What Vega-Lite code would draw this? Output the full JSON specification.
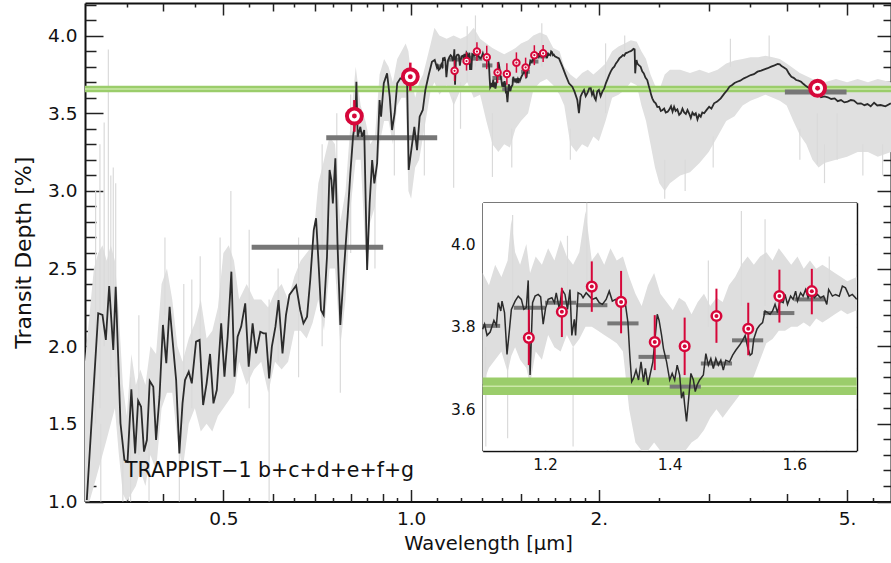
{
  "$schema": "https://vega.github.io/schema/vega-lite/v6.json",
  "width": 806,
  "height": 498.5,
  "autosize": {"type": "none"},
  "padding": {"left": 85, "top": 3, "right": 0, "bottom": 61.5},
  "background": "white",
  "config": {
    "font": "DejaVu Sans",
    "view": {"stroke": null},
    "axis": {"zindex": 1, "grid": false, "labelFont": "DejaVu Sans", "titleFont": "DejaVu Sans", "labelColor": "#111111", "titleColor": "#111111", "titleFontWeight": "normal", "tickColor": "#222222", "domainColor": "#111111", "domainWidth": 2, "tickWidth": 1.5, "labelFlush": false, "labelOverlap": false}
  },
  "datasets": {
    "env": [
      {"w":0.300,"lo":1.00,"hi":1.90},{"w":0.305,"lo":1.00,"hi":2.20},{"w":0.310,"lo":1.10,"hi":2.50},{"w":0.315,"lo":1.20,"hi":2.60},{"w":0.320,"lo":1.30,"hi":2.65},{"w":0.325,"lo":1.40,"hi":2.55},{"w":0.330,"lo":1.50,"hi":2.65},{"w":0.335,"lo":1.60,"hi":2.55},{"w":0.340,"lo":1.30,"hi":2.20},{"w":0.345,"lo":1.05,"hi":1.75},{"w":0.350,"lo":1.00,"hi":1.55},{"w":0.356,"lo":1.05,"hi":1.95},{"w":0.362,"lo":1.10,"hi":1.75},{"w":0.368,"lo":1.20,"hi":1.85},{"w":0.375,"lo":1.10,"hi":1.75},{"w":0.382,"lo":1.30,"hi":2.00},{"w":0.390,"lo":1.20,"hi":1.95},{"w":0.398,"lo":1.60,"hi":2.40},{"w":0.406,"lo":1.70,"hi":2.50},{"w":0.414,"lo":1.70,"hi":2.30},{"w":0.422,"lo":1.40,"hi":2.00},{"w":0.430,"lo":1.20,"hi":1.90},{"w":0.440,"lo":1.50,"hi":2.05},{"w":0.450,"lo":1.60,"hi":2.15},{"w":0.460,"lo":1.45,"hi":2.30},{"w":0.470,"lo":1.50,"hi":2.05},{"w":0.480,"lo":1.45,"hi":2.10},{"w":0.490,"lo":1.55,"hi":2.25},{"w":0.500,"lo":1.60,"hi":2.60},{"w":0.510,"lo":1.65,"hi":2.65},{"w":0.520,"lo":1.70,"hi":2.55},{"w":0.530,"lo":1.90,"hi":2.30},{"w":0.545,"lo":1.75,"hi":2.40},{"w":0.560,"lo":1.85,"hi":2.30},{"w":0.575,"lo":1.90,"hi":2.30},{"w":0.590,"lo":1.70,"hi":2.25},{"w":0.605,"lo":1.90,"hi":2.35},{"w":0.620,"lo":1.85,"hi":2.40},{"w":0.635,"lo":1.90,"hi":2.30},{"w":0.650,"lo":2.10,"hi":2.45},{"w":0.665,"lo":2.10,"hi":2.55},{"w":0.680,"lo":2.05,"hi":2.60},{"w":0.695,"lo":2.15,"hi":2.65},{"w":0.710,"lo":2.30,"hi":3.05},{"w":0.725,"lo":2.10,"hi":3.20},{"w":0.740,"lo":2.50,"hi":3.35},{"w":0.755,"lo":2.50,"hi":3.30},{"w":0.770,"lo":2.00,"hi":2.80},{"w":0.785,"lo":2.30,"hi":3.00},{"w":0.800,"lo":2.90,"hi":3.45},{"w":0.815,"lo":3.20,"hi":3.80},{"w":0.830,"lo":3.20,"hi":3.55},{"w":0.845,"lo":2.60,"hi":3.45},{"w":0.860,"lo":2.80,"hi":3.30},{"w":0.875,"lo":2.90,"hi":3.35},{"w":0.890,"lo":3.30,"hi":3.75},{"w":0.905,"lo":3.45,"hi":3.85},{"w":0.920,"lo":3.45,"hi":3.80},{"w":0.935,"lo":3.30,"hi":3.70},{"w":0.950,"lo":3.55,"hi":3.85},{"w":0.965,"lo":3.60,"hi":3.90},{"w":0.980,"lo":3.60,"hi":3.95},{"w":0.990,"lo":3.00,"hi":3.90},{"w":1.000,"lo":2.95,"hi":3.75},{"w":1.015,"lo":3.15,"hi":3.60},{"w":1.030,"lo":3.20,"hi":3.70},{"w":1.045,"lo":3.35,"hi":3.75},{"w":1.060,"lo":3.50,"hi":3.85},{"w":1.075,"lo":3.65,"hi":3.95},{"w":1.090,"lo":3.70,"hi":4.05},{"w":1.110,"lo":3.62,"hi":4.00},{"w":1.140,"lo":3.68,"hi":3.98},{"w":1.170,"lo":3.55,"hi":4.00},{"w":1.200,"lo":3.65,"hi":3.98},{"w":1.230,"lo":3.70,"hi":4.00},{"w":1.260,"lo":3.60,"hi":4.05},{"w":1.290,"lo":3.62,"hi":3.98},{"w":1.320,"lo":3.45,"hi":3.95},{"w":1.350,"lo":3.30,"hi":3.92},{"w":1.380,"lo":3.25,"hi":3.90},{"w":1.410,"lo":3.30,"hi":3.88},{"w":1.440,"lo":3.28,"hi":3.90},{"w":1.470,"lo":3.40,"hi":3.92},{"w":1.500,"lo":3.45,"hi":3.95},{"w":1.540,"lo":3.50,"hi":3.97},{"w":1.570,"lo":3.65,"hi":4.00},{"w":1.610,"lo":3.70,"hi":4.02},{"w":1.650,"lo":3.72,"hi":4.00},{"w":1.690,"lo":3.68,"hi":3.92},{"w":1.730,"lo":3.62,"hi":3.90},{"w":1.760,"lo":3.55,"hi":3.80},{"w":1.800,"lo":3.30,"hi":3.75},{"w":1.840,"lo":3.25,"hi":3.72},{"w":1.880,"lo":3.30,"hi":3.76},{"w":1.920,"lo":3.28,"hi":3.78},{"w":1.960,"lo":3.35,"hi":3.75},{"w":2.000,"lo":3.32,"hi":3.78},{"w":2.050,"lo":3.45,"hi":3.82},{"w":2.100,"lo":3.60,"hi":3.90},{"w":2.150,"lo":3.62,"hi":3.93},{"w":2.200,"lo":3.65,"hi":3.95},{"w":2.250,"lo":3.70,"hi":3.97},{"w":2.300,"lo":3.68,"hi":3.96},{"w":2.340,"lo":3.55,"hi":3.90},{"w":2.380,"lo":3.45,"hi":3.85},{"w":2.420,"lo":3.30,"hi":3.75},{"w":2.460,"lo":3.15,"hi":3.68},{"w":2.500,"lo":3.05,"hi":3.65},{"w":2.550,"lo":3.00,"hi":3.75},{"w":2.600,"lo":3.05,"hi":3.78},{"w":2.700,"lo":3.10,"hi":3.78},{"w":2.800,"lo":3.12,"hi":3.76},{"w":2.900,"lo":3.18,"hi":3.78},{"w":3.000,"lo":3.25,"hi":3.76},{"w":3.100,"lo":3.35,"hi":3.78},{"w":3.200,"lo":3.45,"hi":3.82},{"w":3.300,"lo":3.48,"hi":3.84},{"w":3.400,"lo":3.55,"hi":3.85},{"w":3.500,"lo":3.58,"hi":3.86},{"w":3.600,"lo":3.60,"hi":3.86},{"w":3.700,"lo":3.62,"hi":3.87},{"w":3.800,"lo":3.60,"hi":3.86},{"w":3.900,"lo":3.58,"hi":3.85},{"w":4.000,"lo":3.55,"hi":3.82},{"w":4.100,"lo":3.45,"hi":3.79},{"w":4.200,"lo":3.36,"hi":3.76},{"w":4.300,"lo":3.30,"hi":3.74},{"w":4.400,"lo":3.20,"hi":3.72},{"w":4.500,"lo":3.15,"hi":3.70},{"w":4.600,"lo":3.18,"hi":3.70},{"w":4.800,"lo":3.20,"hi":3.72},{"w":5.000,"lo":3.22,"hi":3.70},{"w":5.200,"lo":3.25,"hi":3.72},{"w":5.400,"lo":3.25,"hi":3.70},{"w":5.600,"lo":3.22,"hi":3.72},{"w":5.880,"lo":3.25,"hi":3.70}
    ],
    "spikes": [
      {"w":0.312,"lo":1.5,"hi":3.0},{"w":0.317,"lo":1.6,"hi":3.3},{"w":0.318,"lo":1.0,"hi":1.5},{"w":0.322,"lo":2.0,"hi":3.44},{"w":0.327,"lo":2.2,"hi":3.91},{"w":0.330,"lo":1.8,"hi":3.1},{"w":0.333,"lo":2.0,"hi":3.15},{"w":0.336,"lo":1.8,"hi":3.05},{"w":0.345,"lo":1.0,"hi":1.4},{"w":0.355,"lo":1.0,"hi":1.8},{"w":0.366,"lo":1.3,"hi":2.2},{"w":0.380,"lo":1.0,"hi":1.5},{"w":0.403,"lo":2.2,"hi":2.70},{"w":0.425,"lo":1.0,"hi":1.6},{"w":0.432,"lo":1.5,"hi":2.4},{"w":0.445,"lo":1.6,"hi":2.43},{"w":0.459,"lo":2.0,"hi":2.58},{"w":0.494,"lo":2.1,"hi":2.70},{"w":0.514,"lo":2.3,"hi":3.00},{"w":0.550,"lo":1.6,"hi":2.75},{"w":0.592,"lo":1.0,"hi":2.3},{"w":0.612,"lo":1.9,"hi":2.5},{"w":0.660,"lo":1.8,"hi":2.7},{"w":0.720,"lo":2.0,"hi":3.3},{"w":0.760,"lo":2.4,"hi":3.5},{"w":0.770,"lo":1.7,"hi":2.4},{"w":0.800,"lo":2.6,"hi":3.62},{"w":0.875,"lo":2.5,"hi":3.1},{"w":0.940,"lo":3.1,"hi":3.5},{"w":1.050,"lo":3.1,"hi":3.5},{"w":1.170,"lo":3.02,"hi":3.6},{"w":1.200,"lo":3.4,"hi":3.7},{"w":1.230,"lo":3.7,"hi":4.06},{"w":1.268,"lo":3.8,"hi":4.13},{"w":1.350,"lo":3.09,"hi":3.5},{"w":1.450,"lo":3.15,"hi":3.4},{"w":1.620,"lo":3.8,"hi":4.08},{"w":1.800,"lo":3.2,"hi":3.4},{"w":2.050,"lo":3.5,"hi":3.95},{"w":2.200,"lo":3.9,"hi":4.0},{"w":2.550,"lo":2.95,"hi":3.2},{"w":2.750,"lo":3.0,"hi":3.2},{"w":3.050,"lo":3.15,"hi":3.35},{"w":3.250,"lo":3.8,"hi":3.98},{"w":3.750,"lo":3.85,"hi":4.0},{"w":4.200,"lo":3.2,"hi":3.4},{"w":4.480,"lo":3.17,"hi":3.5},{"w":4.600,"lo":3.05,"hi":3.3},{"w":4.820,"lo":3.20,"hi":3.5},{"w":5.300,"lo":3.1,"hi":3.3},{"w":5.700,"lo":3.1,"hi":3.3}
    ],
    "envIn": [
      {"w":1.100,"lo":3.66,"hi":3.93},{"w":1.110,"lo":3.70,"hi":3.90},{"w":1.120,"lo":3.72,"hi":3.95},{"w":1.130,"lo":3.74,"hi":3.92},{"w":1.140,"lo":3.69,"hi":3.96},{"w":1.146,"lo":3.73,"hi":4.06},{"w":1.152,"lo":3.75,"hi":3.98},{"w":1.160,"lo":3.72,"hi":3.95},{"w":1.170,"lo":3.70,"hi":4.00},{"w":1.176,"lo":3.66,"hi":3.93},{"w":1.185,"lo":3.74,"hi":3.97},{"w":1.195,"lo":3.72,"hi":3.95},{"w":1.205,"lo":3.78,"hi":3.99},{"w":1.215,"lo":3.75,"hi":3.96},{"w":1.225,"lo":3.74,"hi":4.01},{"w":1.235,"lo":3.78,"hi":3.97},{"w":1.245,"lo":3.75,"hi":3.95},{"w":1.255,"lo":3.77,"hi":3.98},{"w":1.265,"lo":3.80,"hi":4.08},{"w":1.275,"lo":3.80,"hi":3.96},{"w":1.285,"lo":3.79,"hi":3.98},{"w":1.295,"lo":3.78,"hi":3.95},{"w":1.305,"lo":3.77,"hi":3.99},{"w":1.315,"lo":3.76,"hi":3.96},{"w":1.325,"lo":3.74,"hi":3.97},{"w":1.335,"lo":3.60,"hi":3.92},{"w":1.345,"lo":3.52,"hi":3.88},{"w":1.355,"lo":3.50,"hi":3.85},{"w":1.365,"lo":3.50,"hi":3.90},{"w":1.375,"lo":3.52,"hi":3.93},{"w":1.385,"lo":3.50,"hi":3.88},{"w":1.395,"lo":3.50,"hi":3.86},{"w":1.405,"lo":3.50,"hi":3.84},{"w":1.415,"lo":3.50,"hi":3.87},{"w":1.425,"lo":3.50,"hi":3.86},{"w":1.435,"lo":3.52,"hi":3.83},{"w":1.445,"lo":3.53,"hi":3.86},{"w":1.455,"lo":3.55,"hi":3.88},{"w":1.465,"lo":3.58,"hi":3.85},{"w":1.475,"lo":3.60,"hi":3.87},{"w":1.485,"lo":3.58,"hi":3.86},{"w":1.495,"lo":3.60,"hi":3.90},{"w":1.505,"lo":3.62,"hi":3.92},{"w":1.515,"lo":3.64,"hi":3.95},{"w":1.525,"lo":3.65,"hi":3.97},{"w":1.535,"lo":3.68,"hi":3.95},{"w":1.545,"lo":3.72,"hi":3.97},{"w":1.555,"lo":3.76,"hi":3.98},{"w":1.565,"lo":3.77,"hi":3.96},{"w":1.575,"lo":3.79,"hi":3.99},{"w":1.585,"lo":3.79,"hi":3.97},{"w":1.595,"lo":3.80,"hi":3.95},{"w":1.605,"lo":3.80,"hi":3.97},{"w":1.615,"lo":3.81,"hi":3.94},{"w":1.625,"lo":3.80,"hi":3.96},{"w":1.635,"lo":3.82,"hi":3.94},{"w":1.645,"lo":3.81,"hi":3.95},{"w":1.655,"lo":3.82,"hi":3.94},{"w":1.665,"lo":3.83,"hi":3.93},{"w":1.675,"lo":3.84,"hi":3.92},{"w":1.685,"lo":3.83,"hi":3.91},{"w":1.700,"lo":3.84,"hi":3.92}
    ],
    "spikesIn": [
      {"w":1.105,"lo":3.51,"hi":3.75},{"w":1.140,"lo":3.53,"hi":3.75},{"w":1.148,"lo":3.85,"hi":4.07},{"w":1.236,"lo":3.85,"hi":4.02},{"w":1.245,"lo":3.51,"hi":3.75},{"w":1.267,"lo":3.90,"hi":4.10},{"w":1.462,"lo":3.80,"hi":3.96},{"w":1.515,"lo":3.85,"hi":4.08},{"w":1.553,"lo":3.85,"hi":4.06},{"w":1.656,"lo":3.85,"hi":3.97}
    ],
    "model": [
      {"w":0.302,"d":1.01},{"w":0.315,"d":2.212},{"w":0.320,"d":2.201},{"w":0.324,"d":2.04},{"w":0.328,"d":2.388},{"w":0.333,"d":1.976},{"w":0.336,"d":2.383},{"w":0.342,"d":1.504},{"w":0.347,"d":1.267},{"w":0.351,"d":1.256},{"w":0.356,"d":1.722},{"w":0.361,"d":1.31},{"w":0.365,"d":1.649},{"w":0.369,"d":1.61},{"w":0.373,"d":1.321},{"w":0.377,"d":1.396},{"w":0.381,"d":1.776},{"w":0.386,"d":1.739},{"w":0.390,"d":1.396},{"w":0.395,"d":1.675},{"w":0.400,"d":2.137},{"w":0.405,"d":1.89},{"w":0.410,"d":2.254},{"w":0.414,"d":2.061},{"w":0.420,"d":1.782},{"w":0.425,"d":1.31},{"w":0.430,"d":1.632},{"w":0.434,"d":1.782},{"w":0.440,"d":1.836},{"w":0.445,"d":1.761},{"w":0.452,"d":2.029},{"w":0.458,"d":2.04},{"w":0.464,"d":1.621},{"w":0.470,"d":1.761},{"w":0.476,"d":1.95},{"w":0.482,"d":1.632},{"w":0.488,"d":1.718},{"w":0.496,"d":2.147},{"w":0.502,"d":1.804},{"w":0.508,"d":2.061},{"w":0.515,"d":2.48},{"w":0.521,"d":1.804},{"w":0.527,"d":2.061},{"w":0.534,"d":2.126},{"w":0.542,"d":2.276},{"w":0.549,"d":1.868},{"w":0.557,"d":2.147},{"w":0.564,"d":1.954},{"w":0.573,"d":2.093},{"w":0.580,"d":2.083},{"w":0.585,"d":2.083},{"w":0.592,"d":1.793},{"w":0.598,"d":1.997},{"w":0.606,"d":2.126},{"w":0.613,"d":2.297},{"w":0.622,"d":1.954},{"w":0.630,"d":2.2},{"w":0.638,"d":2.33},{"w":0.646,"d":2.36},{"w":0.654,"d":2.39},{"w":0.664,"d":2.233},{"w":0.672,"d":2.147},{"w":0.681,"d":2.19},{"w":0.689,"d":2.426},{"w":0.698,"d":2.748},{"w":0.704,"d":2.824},{"w":0.711,"d":2.512},{"w":0.717,"d":2.233},{"w":0.724,"d":2.201},{"w":0.733,"d":2.576},{"w":0.740,"d":3.135},{"w":0.745,"d":3.07},{"w":0.749,"d":2.92},{"w":0.756,"d":3.21},{"w":0.762,"d":2.663},{"w":0.770,"d":2.137},{"w":0.779,"d":2.448},{"w":0.791,"d":2.834},{"w":0.799,"d":3.113},{"w":0.807,"d":3.349},{"w":0.814,"d":3.457},{"w":0.817,"d":3.703},{"w":0.821,"d":3.349},{"w":0.829,"d":3.413},{"w":0.834,"d":3.349},{"w":0.841,"d":3.392},{"w":0.850,"d":2.491},{"w":0.858,"d":2.92},{"w":0.866,"d":3.199},{"w":0.873,"d":3.049},{"w":0.882,"d":3.178},{"w":0.890,"d":3.585},{"w":0.895,"d":3.478},{"w":0.904,"d":3.693},{"w":0.915,"d":3.757},{"w":0.924,"d":3.607},{"w":0.932,"d":3.392},{"w":0.941,"d":3.5},{"w":0.950,"d":3.693},{"w":0.961,"d":3.725},{"w":0.973,"d":3.714},{"w":0.985,"d":3.735},{"w":0.991,"d":3.135},{"w":1.004,"d":3.307},{"w":1.012,"d":3.413},{"w":1.022,"d":3.263},{"w":1.032,"d":3.478},{"w":1.044,"d":3.521},{"w":1.054,"d":3.65},{"w":1.067,"d":3.746},{"w":1.080,"d":3.832},{"w":1.091,"d":3.843},
      {"w":1.100,"d":3.794},{"w":1.103,"d":3.806},{"w":1.107,"d":3.779},{"w":1.112,"d":3.787},{"w":1.118,"d":3.815},{"w":1.122,"d":3.803},{"w":1.125,"d":3.858},{"w":1.129,"d":3.838},{"w":1.131,"d":3.862},{"w":1.135,"d":3.834},{"w":1.139,"d":3.733},{"w":1.143,"d":3.794},{"w":1.146,"d":3.842},{"w":1.152,"d":3.862},{"w":1.157,"d":3.874},{"w":1.162,"d":3.866},{"w":1.166,"d":3.842},{"w":1.170,"d":3.846},{"w":1.173,"d":3.912},{"w":1.176,"d":3.683},{"w":1.180,"d":3.858},{"w":1.184,"d":3.874},{"w":1.189,"d":3.878},{"w":1.193,"d":3.872},{"w":1.197,"d":3.806},{"w":1.201,"d":3.846},{"w":1.205,"d":3.866},{"w":1.211,"d":3.870},{"w":1.215,"d":3.858},{"w":1.218,"d":3.882},{"w":1.223,"d":3.842},{"w":1.227,"d":3.890},{"w":1.232,"d":3.878},{"w":1.236,"d":3.842},{"w":1.240,"d":3.890},{"w":1.243,"d":3.779},{"w":1.247,"d":3.818},{"w":1.249,"d":3.779},{"w":1.253,"d":3.882},{"w":1.258,"d":3.878},{"w":1.261,"d":3.870},{"w":1.266,"d":3.882},{"w":1.271,"d":3.874},{"w":1.276,"d":3.866},{"w":1.282,"d":3.870},{"w":1.287,"d":3.858},{"w":1.292,"d":3.854},{"w":1.298,"d":3.866},{"w":1.303,"d":3.886},{"w":1.308,"d":3.862},{"w":1.313,"d":3.866},{"w":1.319,"d":3.858},{"w":1.324,"d":3.866},{"w":1.329,"d":3.854},{"w":1.333,"d":3.810},{"w":1.336,"d":3.731},{"w":1.339,"d":3.667},{"w":1.342,"d":3.675},{"w":1.346,"d":3.695},{"w":1.350,"d":3.671},{"w":1.354,"d":3.715},{"w":1.358,"d":3.667},{"w":1.361,"d":3.699},{"w":1.365,"d":3.659},{"w":1.369,"d":3.687},{"w":1.373,"d":3.715},{"w":1.376,"d":3.763},{"w":1.380,"d":3.830},{"w":1.383,"d":3.815},{"w":1.387,"d":3.779},{"w":1.390,"d":3.747},{"w":1.395,"d":3.715},{"w":1.400,"d":3.671},{"w":1.404,"d":3.687},{"w":1.408,"d":3.671},{"w":1.412,"d":3.707},{"w":1.416,"d":3.683},{"w":1.419,"d":3.627},{"w":1.422,"d":3.643},{"w":1.424,"d":3.611},{"w":1.427,"d":3.571},{"w":1.430,"d":3.619},{"w":1.434,"d":3.687},{"w":1.438,"d":3.671},{"w":1.441,"d":3.643},{"w":1.444,"d":3.659},{"w":1.448,"d":3.671},{"w":1.454,"d":3.683},{"w":1.458,"d":3.735},{"w":1.462,"d":3.707},{"w":1.466,"d":3.723},{"w":1.470,"d":3.699},{"w":1.474,"d":3.723},{"w":1.478,"d":3.707},{"w":1.482,"d":3.719},{"w":1.486,"d":3.695},{"w":1.490,"d":3.719},{"w":1.496,"d":3.715},{"w":1.501,"d":3.731},{"w":1.506,"d":3.743},{"w":1.512,"d":3.755},{"w":1.517,"d":3.767},{"w":1.521,"d":3.779},{"w":1.525,"d":3.751},{"w":1.529,"d":3.731},{"w":1.532,"d":3.735},{"w":1.535,"d":3.771},{"w":1.540,"d":3.794},{"w":1.544,"d":3.803},{"w":1.549,"d":3.810},{"w":1.553,"d":3.838},{"w":1.557,"d":3.834},{"w":1.561,"d":3.830},{"w":1.565,"d":3.838},{"w":1.569,"d":3.854},{"w":1.573,"d":3.834},{"w":1.577,"d":3.862},{"w":1.582,"d":3.858},{"w":1.585,"d":3.878},{"w":1.589,"d":3.854},{"w":1.594,"d":3.874},{"w":1.598,"d":3.866},{"w":1.602,"d":3.886},{"w":1.605,"d":3.862},{"w":1.610,"d":3.882},{"w":1.614,"d":3.874},{"w":1.618,"d":3.890},{"w":1.622,"d":3.870},{"w":1.627,"d":3.886},{"w":1.632,"d":3.870},{"w":1.637,"d":3.878},{"w":1.642,"d":3.870},{"w":1.647,"d":3.874},{"w":1.652,"d":3.854},{"w":1.655,"d":3.890},{"w":1.661,"d":3.874},{"w":1.666,"d":3.878},{"w":1.672,"d":3.874},{"w":1.677,"d":3.898},{"w":1.682,"d":3.894},{"w":1.688,"d":3.874},{"w":1.693,"d":3.878},{"w":1.698,"d":3.870},{"w":1.700,"d":3.866},
      {"w":1.726,"d":3.853},{"w":1.748,"d":3.8},{"w":1.769,"d":3.746},{"w":1.791,"d":3.693},{"w":1.813,"d":3.671},{"w":1.828,"d":3.639},{"w":1.847,"d":3.585},{"w":1.858,"d":3.5},{"w":1.869,"d":3.607},{"w":1.880,"d":3.63},{"w":1.893,"d":3.65},{"w":1.905,"d":3.61},{"w":1.917,"d":3.629},{"w":1.930,"d":3.66},{"w":1.941,"d":3.661},{"w":1.950,"d":3.62},{"w":1.959,"d":3.639},{"w":1.968,"d":3.6},{"w":1.977,"d":3.585},{"w":1.988,"d":3.64},{"w":2.0,"d":3.65},{"w":2.013,"d":3.61},{"w":2.026,"d":3.639},{"w":2.040,"d":3.66},{"w":2.052,"d":3.693},{"w":2.065,"d":3.72},{"w":2.077,"d":3.746},{"w":2.090,"d":3.77},{"w":2.104,"d":3.789},{"w":2.117,"d":3.80},{"w":2.130,"d":3.821},{"w":2.143,"d":3.835},{"w":2.157,"d":3.853},{"w":2.170,"d":3.862},{"w":2.185,"d":3.875},{"w":2.196,"d":3.87},{"w":2.207,"d":3.886},{"w":2.221,"d":3.89},{"w":2.235,"d":3.896},{"w":2.250,"d":3.9},{"w":2.263,"d":3.907},{"w":2.272,"d":3.915},{"w":2.282,"d":3.912},{"w":2.287,"d":3.757},{"w":2.291,"d":3.80},{"w":2.298,"d":3.843},{"w":2.305,"d":3.82},{"w":2.318,"d":3.81},{"w":2.333,"d":3.8},{"w":2.347,"d":3.77},{"w":2.361,"d":3.757},{"w":2.375,"d":3.73},{"w":2.391,"d":3.714},{"w":2.403,"d":3.68},{"w":2.415,"d":3.65},{"w":2.425,"d":3.62},{"w":2.436,"d":3.596},{"w":2.451,"d":3.575},{"w":2.467,"d":3.564},{"w":2.482,"d":3.54},{"w":2.498,"d":3.542},{"w":2.514,"d":3.515},{"w":2.530,"d":3.521},{"w":2.545,"d":3.53},{"w":2.560,"d":3.505},{"w":2.578,"d":3.51},{"w":2.595,"d":3.525},{"w":2.610,"d":3.545},{"w":2.625,"d":3.51},{"w":2.640,"d":3.542},{"w":2.655,"d":3.515},{"w":2.672,"d":3.525},{"w":2.690,"d":3.49},{"w":2.706,"d":3.5},{"w":2.723,"d":3.53},{"w":2.740,"d":3.505},{"w":2.757,"d":3.495},{"w":2.774,"d":3.521},{"w":2.790,"d":3.5},{"w":2.808,"d":3.47},{"w":2.825,"d":3.505},{"w":2.843,"d":3.489},{"w":2.860,"d":3.5},{"w":2.878,"d":3.46},{"w":2.895,"d":3.49},{"w":2.913,"d":3.478},{"w":2.930,"d":3.505},{"w":2.950,"d":3.5},{"w":2.975,"d":3.52},{"w":3.005,"d":3.542},{"w":3.030,"d":3.53},{"w":3.060,"d":3.564},{"w":3.095,"d":3.575},{"w":3.136,"d":3.596},{"w":3.175,"d":3.625},{"w":3.213,"d":3.65},{"w":3.240,"d":3.672},{"w":3.271,"d":3.682},{"w":3.300,"d":3.695},{"w":3.332,"d":3.703},{"w":3.370,"d":3.71},{"w":3.416,"d":3.725},{"w":3.460,"d":3.735},{"w":3.504,"d":3.746},{"w":3.545,"d":3.752},{"w":3.592,"d":3.768},{"w":3.640,"d":3.775},{"w":3.684,"d":3.783},{"w":3.730,"d":3.79},{"w":3.778,"d":3.8},{"w":3.825,"d":3.808},{"w":3.871,"d":3.817},{"w":3.900,"d":3.815},{"w":3.925,"d":3.804},{"w":3.960,"d":3.795},{"w":3.999,"d":3.783},{"w":4.035,"d":3.755},{"w":4.071,"d":3.735},{"w":4.105,"d":3.728},{"w":4.143,"d":3.714},{"w":4.180,"d":3.71},{"w":4.219,"d":3.703},{"w":4.258,"d":3.688},{"w":4.296,"d":3.675},{"w":4.335,"d":3.665},{"w":4.374,"d":3.661},{"w":4.430,"d":3.652},{"w":4.485,"d":3.639},{"w":4.510,"d":3.62},{"w":4.541,"d":3.603},{"w":4.600,"d":3.608},{"w":4.656,"d":3.603},{"w":4.715,"d":3.592},{"w":4.776,"d":3.596},{"w":4.830,"d":3.578},{"w":4.889,"d":3.585},{"w":4.950,"d":3.57},{"w":5.010,"d":3.575},{"w":5.070,"d":3.585},{"w":5.129,"d":3.581},{"w":5.195,"d":3.562},{"w":5.262,"d":3.564},{"w":5.330,"d":3.552},{"w":5.391,"d":3.559},{"w":5.455,"d":3.545},{"w":5.524,"d":3.568},{"w":5.590,"d":3.55},{"w":5.659,"d":3.553},{"w":5.760,"d":3.545},{"w":5.877,"d":3.564}
    ],
    "binPts": [
      {"w":1.174,"d":3.773,"lo":3.707,"hi":3.841},{"w":1.227,"d":3.836,"lo":3.775,"hi":3.894},{"w":1.275,"d":3.897,"lo":3.836,"hi":3.958},{"w":1.322,"d":3.860,"lo":3.784,"hi":3.935},{"w":1.376,"d":3.763,"lo":3.695,"hi":3.828},{"w":1.424,"d":3.753,"lo":3.683,"hi":3.822},{"w":1.475,"d":3.826,"lo":3.761,"hi":3.892},{"w":1.526,"d":3.795,"lo":3.731,"hi":3.858},{"w":1.576,"d":3.874,"lo":3.810,"hi":3.938},{"w":1.628,"d":3.886,"lo":3.830,"hi":3.940}
    ],
    "bigPts": [
      {"w":0.811,"d":3.482,"lo":3.381,"hi":3.585},{"w":0.997,"d":3.735,"lo":3.645,"hi":3.826},{"w":4.484,"d":3.661,"lo":3.61,"hi":3.71}
    ],
    "broadBins": [
      {"w1":0.555,"w2":0.902,"d":2.637},{"w1":0.731,"w2":1.101,"d":3.343},{"w1":3.974,"w2":4.99,"d":3.637}
    ],
    "nirBins": [
      {"w1":1.10,"w2":1.128,"d":3.802},{"w1":1.15,"w2":1.20,"d":3.846},{"w1":1.20,"w2":1.25,"d":3.858},{"w1":1.25,"w2":1.30,"d":3.852},{"w1":1.30,"w2":1.35,"d":3.808},{"w1":1.35,"w2":1.40,"d":3.727},{"w1":1.40,"w2":1.45,"d":3.655},{"w1":1.45,"w2":1.50,"d":3.711},{"w1":1.50,"w2":1.55,"d":3.767},{"w1":1.55,"w2":1.60,"d":3.833},{"w1":1.60,"w2":1.65,"d":3.866}
    ],
    "band": [{"lo":3.635,"hi":3.677,"mid":3.656}]
  },
  "layer": [
    {
      "layer": [
        {
          "data": {"name": "env"},
          "mark": {"type": "area", "color": "#e0e0e0", "opacity": 1},
          "encoding": {
            "x": {"field": "w", "type": "quantitative", "scale": {"type": "log", "domain": [0.3, 5.88], "nice": false},
              "axis": {"orient": "bottom", "values": [0.5, 1, 2, 5], "tickSize": -12, "labelPadding": 20, "labelFontSize": 18.5, "labelExpr": "datum.value == 0.5 ? '0.5' : datum.value == 1 ? '1.0' : datum.value == 2 ? '2.' : '5.'", "title": "Wavelength [μm]", "titleFontSize": 19.5, "titlePadding": 6, "domain": true}},
            "y": {"field": "lo", "type": "quantitative", "scale": {"domain": [1.0, 4.21], "nice": false, "zero": false},
              "axis": {"orient": "left", "values": [1, 1.5, 2, 2.5, 3, 3.5, 4], "format": ".1f", "tickSize": -18, "labelPadding": 26, "labelFontSize": 18.5, "title": "Transit Depth [%]", "titleFontSize": 22, "titlePadding": 12, "domain": true}},
            "y2": {"field": "hi"}
          }
        },
        {
          "data": {"name": "spikes"},
          "mark": {"type": "rule", "color": "#dadada", "strokeWidth": 1.2},
          "encoding": {
            "x": {"field": "w", "type": "quantitative", "axis": {"orient": "bottom", "values": [0.4, 0.6, 0.7, 0.8, 0.9, 1.5, 3, 4], "tickSize": -8, "labels": false, "domain": false, "title": null}},
            "y": {"field": "lo", "type": "quantitative", "axis": {"orient": "left", "values": [1.1,1.2,1.3,1.4,1.6,1.7,1.8,1.9,2.1,2.2,2.3,2.4,2.6,2.7,2.8,2.9,3.1,3.2,3.3,3.4,3.6,3.7,3.8,3.9,4.1,4.2], "tickSize": -11, "labels": false, "domain": false, "title": null}},
            "y2": {"field": "hi"}
          }
        },
        {
          "data": {"name": "band"},
          "mark": {"type": "rect", "color": "#9bcd6b"},
          "encoding": {"y": {"field": "lo", "type": "quantitative", "axis": null}, "y2": {"field": "hi"}}
        },
        {
          "data": {"name": "band"},
          "mark": {"type": "rule", "color": "#cbe8a8", "strokeWidth": 1.5},
          "encoding": {"y": {"field": "mid", "type": "quantitative", "axis": null}}
        },
        {
          "data": {"name": "broadBins"},
          "mark": {"type": "rule", "color": "#777777", "strokeWidth": 5},
          "encoding": {
            "x": {"field": "w1", "type": "quantitative", "axis": {"orient": "bottom", "values": [0.35,0.45,0.55,0.65,0.75,0.85,0.95,1.1,1.2,1.3,1.4,1.6,1.7,1.8,1.9,2.5,3.5,4.5,5.5], "tickSize": -4, "labels": false, "domain": false, "title": null}},
            "x2": {"field": "w2"},
            "y": {"field": "d", "type": "quantitative", "axis": {"orient": "right", "values": [1, 1.5, 2, 2.5, 3, 3.5, 4], "tickSize": -14, "labels": false, "domain": true, "title": null}}
          }
        },
        {
          "data": {"name": "nirBins"},
          "mark": {"type": "rule", "color": "#777777", "strokeWidth": 4},
          "encoding": {
            "x": {"field": "w1", "type": "quantitative", "axis": {"orient": "top", "values": [0.5, 1, 2, 5], "tickSize": -12, "labels": false, "domain": true, "title": null}},
            "x2": {"field": "w2"},
            "y": {"field": "d", "type": "quantitative", "axis": {"orient": "right", "values": [1.1,1.2,1.3,1.4,1.6,1.7,1.8,1.9,2.1,2.2,2.3,2.4,2.6,2.7,2.8,2.9,3.1,3.2,3.3,3.4,3.6,3.7,3.8,3.9,4.1,4.2], "tickSize": -8, "labels": false, "domain": false, "title": null}}
          }
        },
        {
          "data": {"name": "model"},
          "mark": {"type": "line", "color": "#2b2b2b", "strokeWidth": 1.8},
          "encoding": {
            "x": {"field": "w", "type": "quantitative", "axis": {"orient": "top", "values": [0.4, 0.6, 0.7, 0.8, 0.9, 1.5, 3, 4], "tickSize": -8, "labels": false, "domain": false, "title": null}},
            "y": {"field": "d", "type": "quantitative", "axis": null}
          }
        },
        {
          "data": {"name": "binPts"},
          "mark": {"type": "rule", "color": "#d6073a", "strokeWidth": 1.5},
          "encoding": {
            "x": {"field": "w", "type": "quantitative", "axis": {"orient": "top", "values": [0.35,0.45,0.55,0.65,0.75,0.85,0.95,1.1,1.2,1.3,1.4,1.6,1.7,1.8,1.9,2.5,3.5,4.5,5.5], "tickSize": -4, "labels": false, "domain": false, "title": null}},
            "y": {"field": "lo", "type": "quantitative", "axis": null},
            "y2": {"field": "hi"}
          }
        },
        {
          "data": {"name": "binPts"},
          "mark": {"type": "circle", "fill": "white", "stroke": "#d6073a", "strokeWidth": 2, "size": 42, "opacity": 1},
          "encoding": {"x": {"field": "w", "type": "quantitative", "axis": null}, "y": {"field": "d", "type": "quantitative", "axis": null}}
        },
        {
          "data": {"name": "binPts"},
          "mark": {"type": "circle", "color": "#d6073a", "size": 5, "opacity": 1},
          "encoding": {"x": {"field": "w", "type": "quantitative", "axis": null}, "y": {"field": "d", "type": "quantitative", "axis": null}}
        },
        {
          "data": {"name": "bigPts"},
          "mark": {"type": "rule", "color": "#d6073a", "strokeWidth": 2.5},
          "encoding": {"x": {"field": "w", "type": "quantitative", "axis": null}, "y": {"field": "lo", "type": "quantitative", "axis": null}, "y2": {"field": "hi"}}
        },
        {
          "data": {"name": "bigPts"},
          "mark": {"type": "circle", "fill": "white", "stroke": "#d6073a", "strokeWidth": 3.9, "size": 222, "opacity": 1},
          "encoding": {"x": {"field": "w", "type": "quantitative", "axis": null}, "y": {"field": "d", "type": "quantitative", "axis": null}}
        },
        {
          "data": {"name": "bigPts"},
          "mark": {"type": "circle", "color": "#d6073a", "size": 24, "opacity": 1},
          "encoding": {"x": {"field": "w", "type": "quantitative", "axis": null}, "y": {"field": "d", "type": "quantitative", "axis": null}}
        },
        {
          "data": {"values": [{}]},
          "mark": {"type": "text", "text": "TRAPPIST−1 b+c+d+e+f+g", "align": "left", "baseline": "alphabetic", "fontSize": 20.5, "font": "DejaVu Sans", "color": "#111111"},
          "encoding": {"x": {"datum": 0.3478, "type": "quantitative", "axis": null}, "y": {"datum": 1.158, "type": "quantitative", "axis": null}}
        }
      ],
      "resolve": {"axis": {"x": "independent", "y": "independent"}}
    },
    {
      "layer": [
        {
          "data": {"values": [{}]},
          "mark": {"type": "rect", "fill": "white"},
          "encoding": {
            "x": {"datum": 1.1, "type": "quantitative", "scale": {"domain": [1.1, 1.7], "range": [397.7, 771.7], "nice": false, "zero": false}, "axis": null},
            "x2": {"datum": 1.7},
            "y": {"datum": 3.5, "type": "quantitative", "scale": {"domain": [3.5, 4.1], "range": [447.7, 199.7], "nice": false, "zero": false}, "axis": null},
            "y2": {"datum": 4.1}
          }
        },
        {
          "data": {"name": "envIn"},
          "mark": {"type": "area", "color": "#dedede", "opacity": 1},
          "encoding": {
            "x": {"field": "w", "type": "quantitative", "scale": {"domain": [1.1, 1.7], "range": [397.7, 771.7], "nice": false, "zero": false},
              "axis": {"orient": "bottom", "offset": -50.8, "values": [1.2, 1.4, 1.6], "format": ".1f", "tickSize": -12, "labelPadding": 19, "labelFontSize": 15.5, "title": null, "domain": true}},
            "y": {"field": "lo", "type": "quantitative", "scale": {"domain": [3.5, 4.1], "range": [447.7, 199.7], "nice": false, "zero": false},
              "axis": {"orient": "left", "offset": -397.7, "values": [3.6, 3.8, 4.0], "format": ".1f", "tickSize": -16, "labelPadding": 23.5, "labelFontSize": 15.5, "title": null, "domain": true}},
            "y2": {"field": "hi"}
          }
        },
        {
          "data": {"name": "spikesIn"},
          "mark": {"type": "rule", "color": "#dadada", "strokeWidth": 1.2},
          "encoding": {
            "x": {"field": "w", "type": "quantitative", "axis": {"orient": "bottom", "offset": -50.8, "values": [1.15,1.25,1.3,1.35,1.45,1.5,1.55,1.65], "tickSize": -6, "labels": false, "domain": false, "title": null}},
            "y": {"field": "lo", "type": "quantitative", "axis": {"orient": "left", "offset": -397.7, "values": [3.55,3.65,3.7,3.75,3.85,3.9,3.95,4.05], "tickSize": -10, "labels": false, "domain": false, "title": null}},
            "y2": {"field": "hi"}
          }
        },
        {
          "data": {"name": "band"},
          "mark": {"type": "rect", "color": "#9bcd6b"},
          "encoding": {"x": {"datum": 1.1, "type": "quantitative", "axis": null}, "x2": {"datum": 1.7}, "y": {"field": "lo", "type": "quantitative", "axis": null}, "y2": {"field": "hi"}}
        },
        {
          "data": {"name": "band"},
          "mark": {"type": "rule", "color": "#cbe8a8", "strokeWidth": 1.5},
          "encoding": {"x": {"datum": 1.1, "type": "quantitative", "axis": null}, "x2": {"datum": 1.7}, "y": {"field": "mid", "type": "quantitative", "axis": null}}
        },
        {
          "data": {"name": "nirBins"},
          "mark": {"type": "rule", "color": "#777777", "strokeWidth": 4},
          "encoding": {
            "x": {"field": "w1", "type": "quantitative", "axis": {"orient": "top", "offset": -199.7, "values": [1.2, 1.4, 1.6], "tickSize": -12, "labels": false, "domain": true, "title": null}},
            "x2": {"field": "w2"},
            "y": {"field": "d", "type": "quantitative", "axis": {"orient": "right", "offset": -34.3, "values": [3.6, 3.8, 4.0], "tickSize": -14, "labels": false, "domain": true, "title": null}}
          }
        },
        {
          "data": {"name": "model"},
          "transform": [{"filter": "datum.w >= 1.1 && datum.w <= 1.7"}],
          "mark": {"type": "line", "color": "#2b2b2b", "strokeWidth": 1.5},
          "encoding": {
            "x": {"field": "w", "type": "quantitative", "axis": {"orient": "top", "offset": -199.7, "values": [1.15,1.25,1.3,1.35,1.45,1.5,1.55,1.65], "tickSize": -6, "labels": false, "domain": false, "title": null}},
            "y": {"field": "d", "type": "quantitative", "axis": {"orient": "right", "offset": -34.3, "values": [3.55,3.65,3.7,3.75,3.85,3.9,3.95,4.05], "tickSize": -10, "labels": false, "domain": false, "title": null}}
          }
        },
        {
          "data": {"name": "binPts"},
          "mark": {"type": "rule", "color": "#d6073a", "strokeWidth": 2},
          "encoding": {"x": {"field": "w", "type": "quantitative", "axis": null}, "y": {"field": "lo", "type": "quantitative", "axis": null}, "y2": {"field": "hi"}}
        },
        {
          "data": {"name": "binPts"},
          "mark": {"type": "circle", "fill": "white", "stroke": "#d6073a", "strokeWidth": 2.5, "size": 92, "opacity": 1},
          "encoding": {"x": {"field": "w", "type": "quantitative", "axis": null}, "y": {"field": "d", "type": "quantitative", "axis": null}}
        },
        {
          "data": {"name": "binPts"},
          "mark": {"type": "circle", "color": "#d6073a", "size": 16, "opacity": 1},
          "encoding": {"x": {"field": "w", "type": "quantitative", "axis": null}, "y": {"field": "d", "type": "quantitative", "axis": null}}
        }
      ],
      "resolve": {"axis": {"x": "independent", "y": "independent"}}
    }
  ],
  "resolve": {"scale": {"x": "independent", "y": "independent"}}
}
